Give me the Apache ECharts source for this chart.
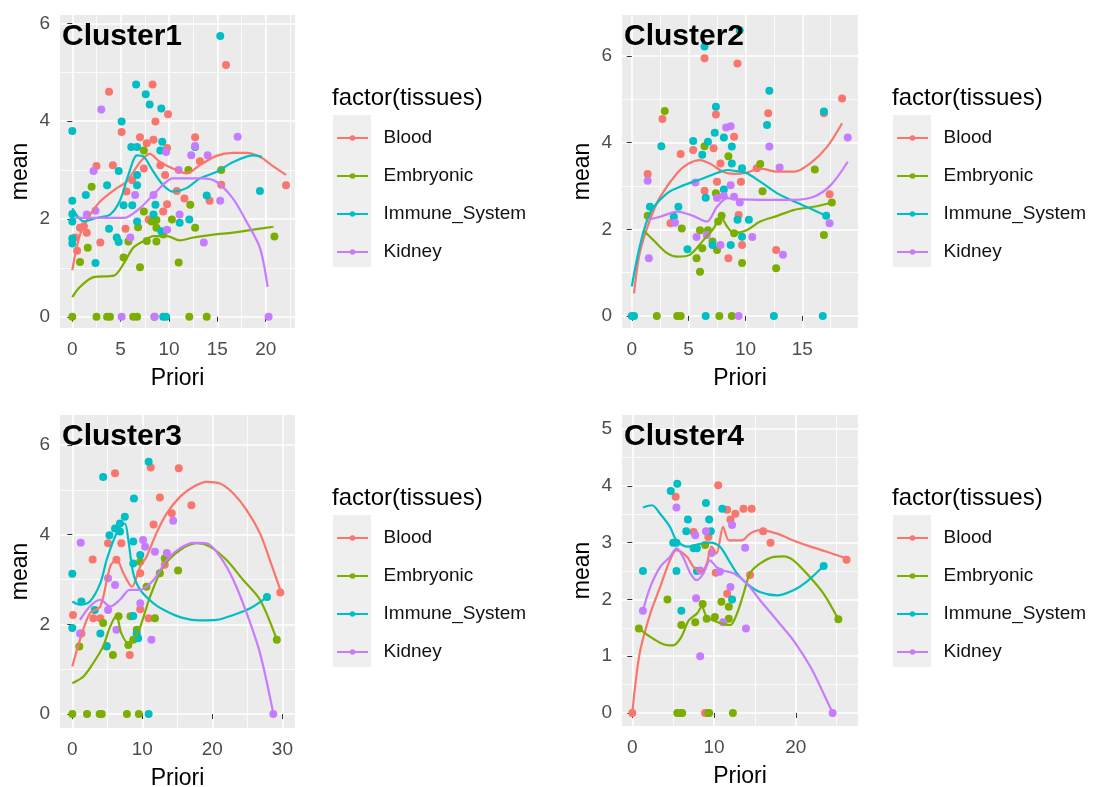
<!DOCTYPE html>
<html>
<head>
<meta charset="utf-8">
<title>Clusters</title>
<script src="https://cdn.jsdelivr.net/npm/echarts@6/dist/echarts.min.js"></script>
<style>
  html, body { margin: 0; padding: 0; background: #fff; }
  #chart { width: 1099px; height: 787px; }
</style>
</head>
<body>
<div id="chart"></div>
<script>
// tissue groups, ggplot default hues
const tissues = ['Blood', 'Embryonic', 'Immune_System', 'Kidney'];
const tissueColors = ['#F8766D', '#7CAE00', '#00BFC4', '#C77CFF'];
const clusterNames = ['Cluster1', 'Cluster2', 'Cluster3', 'Cluster4'];

// tick values per panel
const c1XTicks = [0, 5, 10, 15, 20];
const c1YTicks = [0, 2, 4, 6];
const c2XTicks = [0, 5, 10, 15];
const c2YTicks = [0, 2, 4, 6];
const c3XTicks = [0, 10, 20, 30];
const c3YTicks = [0, 2, 4, 6];
const c4XTicks = [0, 10, 20];
const c4YTicks = [0, 1, 2, 3, 4, 5];

// ---- Cluster1: points [Priori, mean]
const c1Blood = [[15.9,5.15],[8.3,4.75],[3.8,4.6],[9.9,4.14],[8.6,3.99],[5.1,3.78],[7.0,3.67],[12.7,3.67],[8.4,3.62],[7.7,3.55],[9.8,3.45],[2.5,3.08],[4.2,3.1],[7.4,3.03],[9.1,3.1],[13.2,3.18],[9.6,2.9],[6.2,2.79],[5.6,2.56],[9.8,2.3],[10.8,2.57],[11.6,2.42],[14.2,2.37],[15.4,2.7],[0.8,1.82],[1.5,1.72],[1.2,1.85],[2.9,1.52],[5.5,1.8],[7.9,1.99],[9.4,2.15],[0.3,1.62],[0.5,1.35],[22.1,2.69]];
const c1Emb = [[7.4,3.4],[2.0,2.66],[12.0,3.0],[15.4,3.0],[12.2,2.29],[7.4,2.15],[8.2,1.95],[8.7,1.98],[8.7,1.82],[6.8,1.83],[7.7,1.55],[8.7,1.54],[9.4,1.68],[10.3,1.99],[12.7,1.82],[11.0,1.11],[7.0,1.01],[5.3,1.21],[1.6,1.41],[0.8,1.12],[5.8,1.54],[20.9,1.64],[0,0],[2.5,0],[3.6,0],[3.9,0],[6.3,0],[6.7,0],[8.5,0],[12.1,0],[13.9,0]];
const c1Imm = [[15.3,5.74],[0,3.8],[6.6,4.75],[7.6,4.55],[8.0,4.34],[9.2,4.26],[5.1,3.99],[6.1,3.47],[6.7,3.47],[9.3,3.58],[9.1,3.4],[12.7,3.47],[0,2.37],[0,2.1],[0,1.95],[0,1.6],[0,1.5],[1.4,2.49],[3.6,2.69],[4.8,2.98],[3.8,1.8],[2.4,1.1],[5.3,2.28],[6.2,2.28],[6.7,2.69],[6.7,2.9],[8.6,2.29],[8.4,2.09],[9.2,1.75],[11.1,1.92],[12.1,1.99],[13.9,2.48],[19.4,2.57],[9.4,0],[9.7,0],[6.7,1.95],[4.8,1.53],[4.6,1.62]];
const c1Kid = [[3.0,4.24],[12.7,3.49],[17.1,3.68],[9.7,3.37],[11.0,3.0],[2.2,2.98],[12.3,3.3],[14.0,3.3],[1.5,2.09],[2.4,2.17],[6.5,2.49],[8.4,2.49],[11.1,2.09],[9.8,1.78],[13.6,1.52],[15.3,2.37],[6.0,1.62],[5.1,0],[8.5,0],[20.3,0]];
// Cluster1: smoothed fits
const c1BloodFit = [[0,0.95],[0.8,1.68],[1.9,2.1],[2.9,2.36],[4.6,2.63],[5.6,2.76],[7.0,3.16],[8.0,3.33],[9.1,3.16],[10.4,3.03],[11.8,2.93],[13.2,3.1],[14.9,3.29],[16.6,3.35],[18.0,3.35],[19.4,3.27],[20.6,3.1],[22.1,2.9]];
const c1EmbFit = [[0,0.4],[0.8,0.61],[2.2,0.81],[4.3,0.84],[5.3,1.08],[6.3,1.41],[7.4,1.55],[8.4,1.65],[9.8,1.65],[11.1,1.56],[12.5,1.62],[14.6,1.68],[16.6,1.72],[18.7,1.78],[20.8,1.84]];
const c1ImmFit = [[0,2.22],[1.2,1.95],[2.5,2.02],[3.9,2.09],[4.9,2.36],[5.8,2.9],[6.7,3.3],[7.4,3.27],[8.4,2.96],[9.4,2.69],[10.4,2.56],[11.8,2.63],[13.2,2.83],[14.9,2.96],[16.6,3.16],[18.7,3.3],[19.6,3.27]];
const c1KidFit = [[0.3,2.02],[2.9,2.02],[5.3,2.02],[7.0,2.22],[8.7,2.56],[10.4,2.83],[11.8,2.83],[13.5,2.83],[14.9,2.76],[16.6,2.42],[18.0,1.95],[19.4,1.41],[20.2,0.61]];

// ---- Cluster2
const c2Blood = [[6.4,5.95],[9.3,5.83],[18.5,5.02],[7.4,4.65],[12.0,4.68],[2.7,4.55],[16.9,4.68],[1.4,3.28],[4.3,3.74],[5.4,3.83],[7.2,3.87],[9.0,4.14],[6.4,2.89],[7.8,3.52],[7.5,3.1],[9.6,3.1],[11.0,3.41],[3.4,2.14],[9.4,2.33],[9.7,1.64],[8.5,1.33],[12.7,1.52],[17.4,2.81]];
const c2Emb = [[2.9,4.73],[6.4,3.92],[8.5,3.69],[11.3,3.51],[16.1,3.38],[17.6,2.62],[16.9,1.87],[7.4,2.83],[11.5,2.88],[1.4,2.31],[4.4,2.02],[6.0,1.98],[6.7,1.98],[7.6,2.18],[7.9,2.31],[6.2,1.56],[5.7,1.33],[6.0,1.02],[7.1,1.72],[7.5,1.52],[9.7,1.22],[12.7,1.1],[9.0,1.91],[2.2,0],[4.0,0],[4.3,0],[7.7,0],[8.8,0]];
const c2Imm = [[6.4,6.22],[9.5,6.6],[12.1,5.2],[7.4,4.83],[11.9,4.41],[16.9,4.72],[2.6,3.92],[5.4,4.04],[6.7,4.02],[7.3,4.23],[8.1,4.12],[8.8,3.91],[6.2,3.72],[8.8,3.52],[9.7,3.41],[6.5,2.73],[8.1,2.92],[1.6,2.52],[4.1,2.52],[3.7,2.29],[9.3,2.22],[10.3,2.22],[9.7,1.83],[8.7,1.64],[7.1,1.64],[4.9,1.54],[17.1,2.31],[0,0],[0.2,0],[6.5,0],[12.5,0],[16.8,0]];
const c2Kid = [[8.3,4.35],[8.7,4.38],[12.1,3.91],[19.0,4.12],[1.4,3.12],[5.6,3.08],[13.0,3.43],[8.7,3.02],[7.5,2.72],[8.1,2.77],[9.0,2.75],[9.5,2.62],[1.5,1.33],[3.8,2.15],[5.7,1.82],[6.6,1.87],[7.8,1.64],[10.6,1.82],[13.3,1.41],[17.4,2.14],[9.4,0]];
const c2BloodFit = [[0.2,0.52],[0.7,1.45],[1.6,2.22],[2.5,2.75],[4.0,3.3],[5.0,3.52],[6.0,3.6],[7.0,3.5],[8.0,3.33],[9.0,3.28],[10.0,3.3],[11.3,3.4],[12.8,3.33],[14.3,3.33],[15.7,3.52],[17.2,3.91],[18.5,4.45]];
const c2EmbFit = [[1.0,1.98],[1.9,1.75],[3.1,1.45],[4.0,1.37],[5.1,1.41],[6.3,1.75],[7.2,2.02],[7.8,2.29],[8.4,2.06],[9.0,1.91],[10.1,1.98],[11.3,2.18],[12.8,2.31],[14.3,2.45],[16.0,2.52],[17.6,2.62]];
const c2ImmFit = [[0,0.68],[0.7,1.6],[1.6,2.37],[3.1,2.83],[4.6,3.02],[6.0,3.15],[7.5,3.3],[8.4,3.37],[9.5,3.33],[10.1,3.3],[11.3,3.1],[12.8,2.83],[14.3,2.64],[15.7,2.48],[17.1,2.31]];
const c2KidFit = [[1.4,2.22],[2.5,2.29],[4.0,2.41],[5.4,2.31],[6.6,2.18],[7.5,2.52],[8.4,2.72],[9.6,2.69],[11.3,2.68],[12.8,2.68],[14.3,2.68],[16.0,2.75],[17.5,3.02],[19.0,3.56]];

// ---- Cluster3
const c3Blood = [[6.1,5.37],[11.2,5.5],[15.2,5.48],[12.5,4.83],[17.0,4.66],[14.2,4.48],[11.6,4.23],[5.1,3.81],[7.0,3.81],[2.9,3.45],[6.3,3.44],[9.7,3.14],[0.1,2.21],[1.3,1.8],[3.0,2.14],[4.0,2.14],[8.2,1.32],[9.7,2.34],[10.9,2.14],[13.2,3.33],[29.7,2.71]];
const c3Emb = [[15.1,3.2],[13.2,3.47],[12.5,3.14],[9.7,3.4],[10.6,2.84],[11.8,2.14],[1.0,1.51],[4.4,2.03],[4.9,1.51],[5.8,1.32],[8.0,1.54],[8.7,1.66],[9.2,1.88],[8.3,2.18],[6.6,2.18],[29.2,1.66],[0,0],[2.1,0],[3.9,0],[4.2,0],[7.8,0],[9.5,0]];
const c3Imm = [[10.9,5.63],[4.4,5.29],[8.7,3.36],[0,3.13],[5.3,3.99],[6.1,4.14],[6.8,4.25],[7.5,4.4],[6.8,4.07],[8.7,3.85],[8.8,4.81],[9.7,3.55],[0,1.92],[1.3,2.51],[3.2,2.32],[4.0,1.8],[4.9,1.52],[8.7,2.19],[9.2,1.8],[9.4,1.69],[10.9,0],[27.8,2.61]];
const c3Kid = [[1.2,3.82],[10.1,3.88],[14.4,4.31],[10.4,3.73],[11.8,3.62],[13.5,3.59],[5.1,3.03],[6.1,2.88],[5.1,2.32],[1.1,1.8],[6.3,1.88],[11.3,1.66],[9.7,2.47],[28.7,0]];
const c3BloodFit = [[0,1.06],[1.1,1.66],[2.5,2.25],[4.0,2.4],[5.4,3.29],[6.3,3.45],[7.3,3.14],[8.5,2.84],[9.7,3.29],[10.6,3.51],[12.0,4.03],[13.5,4.48],[15.4,4.85],[17.3,5.07],[19.2,5.18],[21.1,5.14],[23.0,4.92],[24.9,4.55],[26.8,4.03],[28.2,3.44],[29.7,2.77]];
const c3EmbFit = [[0,0.69],[1.6,0.84],[3.0,1.14],[4.4,1.51],[5.4,1.95],[6.3,2.19],[7.0,1.8],[8.0,1.58],[8.7,1.66],[9.7,1.95],[11.1,2.62],[13.0,3.29],[15.4,3.66],[17.8,3.81],[19.7,3.73],[22.0,3.44],[24.4,2.99],[26.8,2.55],[29.2,1.66]];
const c3ImmFit = [[0,2.51],[1.1,2.44],[2.5,2.51],[4.0,2.92],[4.9,3.44],[5.9,3.88],[6.8,4.18],[7.5,4.25],[8.0,3.88],[8.7,3.14],[9.7,2.77],[11.6,2.47],[13.5,2.29],[15.9,2.14],[18.2,2.09],[20.6,2.1],[23.0,2.21],[25.4,2.36],[27.8,2.61]];
const c3KidFit = [[1.1,2.1],[2.5,2.4],[4.0,2.55],[5.4,2.4],[6.8,2.55],[8.2,2.77],[9.7,2.77],[11.6,2.99],[13.5,3.44],[15.4,3.7],[17.3,3.82],[19.2,3.81],[21.1,3.51],[23.0,2.99],[24.9,2.25],[26.8,1.36],[28.7,0.02]];

// ---- Cluster4
const c4Blood = [[10.5,4.01],[5.3,3.81],[11.6,3.58],[12.6,3.51],[13.6,3.6],[14.6,3.6],[12.0,3.41],[7.5,3.19],[9.3,3.1],[16.0,3.2],[16.9,3.0],[10.2,2.47],[11.6,2.1],[14.4,2.43],[26.2,2.7],[0,0],[8.9,0]];
const c4Emb = [[0.8,1.49],[4.3,2.0],[6.0,1.55],[7.7,1.6],[8.6,1.92],[9.1,1.66],[10.1,1.69],[10.9,1.96],[11.8,1.66],[11.8,1.87],[8.9,2.96],[25.2,1.65],[5.5,0],[5.9,0],[6.1,0],[9.3,0],[9.4,0],[12.3,0]];
const c4Imm = [[5.5,4.04],[4.7,3.91],[9.0,3.7],[11.0,3.6],[6.8,3.41],[9.4,3.41],[6.6,3.2],[9.6,3.2],[5.0,3.0],[5.4,3.0],[7.5,2.9],[7.9,2.9],[1.3,2.5],[5.4,2.5],[7.9,2.5],[6.0,1.8],[12.2,2.0],[23.4,2.59]];
const c4Kid = [[5.4,3.62],[7.7,3.13],[9.0,3.2],[12.2,3.31],[13.8,2.91],[8.3,2.51],[9.7,2.82],[10.7,2.49],[12.0,2.22],[1.3,1.8],[7.8,2.02],[11.1,1.6],[8.3,1.0],[13.9,1.49],[24.5,0]];
const c4BloodFit = [[0,0],[0.9,1.05],[2.2,1.75],[3.4,2.22],[4.6,2.69],[5.4,2.87],[6.7,2.75],[7.5,2.57],[8.5,2.49],[9.1,2.63],[9.7,2.93],[10.3,2.81],[11.1,3.28],[11.8,3.04],[12.4,3.04],[13.4,3.04],[14.4,3.16],[15.6,3.22],[17.7,3.16],[19.7,3.04],[21.8,2.93],[23.8,2.84],[26.2,2.72]];
const c4EmbFit = [[0.8,1.49],[2.2,1.34],[3.8,1.21],[5.0,1.19],[6.0,1.34],[6.9,1.63],[7.9,1.75],[8.5,1.87],[9.1,1.69],[9.9,1.63],[11.1,1.57],[12.0,1.55],[12.8,1.75],[13.6,2.1],[14.4,2.46],[15.6,2.63],[17.3,2.75],[18.5,2.76],[19.7,2.69],[21.3,2.46],[23.4,2.1],[25.2,1.65]];
const c4ImmFit = [[1.3,3.62],[2.4,3.66],[3.4,3.51],[4.6,3.28],[5.4,3.04],[6.7,2.93],[8.3,2.98],[9.5,3.0],[10.7,2.93],[11.8,2.69],[12.8,2.46],[14.0,2.28],[15.6,2.13],[17.7,2.07],[19.7,2.16],[21.3,2.31],[23.4,2.59]];
const c4KidFit = [[1.3,1.8],[2.2,2.22],[3.4,2.57],[4.6,2.75],[5.4,2.9],[6.2,2.75],[7.1,2.46],[7.9,2.34],[8.7,2.46],[9.5,2.69],[10.3,2.57],[11.1,2.51],[12.4,2.46],[14.0,2.28],[15.6,1.99],[17.7,1.63],[19.7,1.28],[21.8,0.81],[23.4,0.34],[24.5,0]];

const pointSets = [
    [c1Blood, c1Emb, c1Imm, c1Kid],
    [c2Blood, c2Emb, c2Imm, c2Kid],
    [c3Blood, c3Emb, c3Imm, c3Kid],
    [c4Blood, c4Emb, c4Imm, c4Kid]
];
const fitSets = [
    [c1BloodFit, c1EmbFit, c1ImmFit, c1KidFit],
    [c2BloodFit, c2EmbFit, c2ImmFit, c2KidFit],
    [c3BloodFit, c3EmbFit, c3ImmFit, c3KidFit],
    [c4BloodFit, c4EmbFit, c4ImmFit, c4KidFit]
];
const xTicks = [c1XTicks, c2XTicks, c3XTicks, c4XTicks];
const yTicks = [c1YTicks, c2YTicks, c3YTicks, c4YTicks];

// layout (px): panel boxes and axis extents
const panels = [
    { left: 60,  top: 15,  width: 235, height: 313, x: [-1.27, 23.03], y: [-0.23, 6.17], xs: 5, ys: 3 },
    { left: 622, top: 15,  width: 236, height: 313, x: [-0.86, 19.9],  y: [-0.28, 6.95], xs: 5, ys: 3 },
    { left: 60,  top: 415, width: 235, height: 313, x: [-1.76, 31.8],  y: [-0.31, 6.67], xs: 3, ys: 3 },
    { left: 622, top: 415, width: 236, height: 311, x: [-1.26, 27.6],  y: [-0.23, 5.25], xs: 3, ys: 5 }
];

const FONT = 'Liberation Sans, Arial, sans-serif';

function makeAxis(idx, isY) {
    const p = panels[idx];
    const ext = isY ? p.y : p.x;
    const ticks = isY ? yTicks[idx] : xTicks[idx];
    return {
        type: 'value',
        gridIndex: idx,
        min: ext[0],
        max: ext[1],
        splitNumber: isY ? p.ys : p.xs,
        name: isY ? 'mean' : 'Priori',
        nameLocation: 'middle',
        nameGap: isY ? 28 : 39,
        nameTextStyle: { fontSize: 23, color: '#000', fontFamily: FONT },
        axisLine: { show: false },
        axisTick: { show: true, length: 5, customValues: ticks, lineStyle: { color: '#333', width: 1 } },
        axisLabel: { customValues: ticks, margin: isY ? 10 : 12, fontSize: 19, color: '#4D4D4D', fontFamily: FONT },
        splitLine: { show: true, lineStyle: { color: '#fff', width: 1.6 } },
        minorTick: { show: false, splitNumber: 2 },
        minorSplitLine: { show: true, lineStyle: { color: '#fff', width: 0.8 } }
    };
}

const grids = [], xAxes = [], yAxes = [], lineSeries = [], pointSeries = [];
const titles = [], legends = [], keyBoxes = [];

panels.forEach((p, i) => {
    grids.push({
        left: p.left, top: p.top, width: p.width, height: p.height,
        show: true, backgroundColor: '#EBEBEB', borderWidth: 0,
        containLabel: false, outerBoundsMode: 'none'
    });
    xAxes.push(makeAxis(i, false));
    yAxes.push(makeAxis(i, true));

    tissues.forEach((t, k) => {
        lineSeries.push({
            name: t, type: 'line', xAxisIndex: i, yAxisIndex: i,
            data: fitSets[i][k], smooth: 0.3, showSymbol: false, symbol: 'circle',
            lineStyle: { color: tissueColors[k], width: 2.2 },
            itemStyle: { color: tissueColors[k] },
            z: 3, silent: true
        });
        pointSeries.push({
            name: t, type: 'scatter', xAxisIndex: i, yAxisIndex: i,
            data: pointSets[i][k], symbolSize: 8,
            itemStyle: { color: tissueColors[k], opacity: 1 },
            z: 2, silent: true
        });
    });

    const right = i % 2 === 1;
    const lx = right ? 893 : 333;
    const dy = i >= 2 ? 400 : 0;
    titles.push({
        text: clusterNames[i], left: p.left + 2, top: p.top + 7, padding: 0,
        textStyle: { fontSize: 30, fontWeight: 'bold', color: '#000', fontFamily: FONT }
    });
    titles.push({
        text: 'factor(tissues)', left: lx - 1, top: 86 + dy, padding: 0,
        textStyle: { fontSize: 24, fontWeight: 'normal', color: '#000', fontFamily: FONT }
    });
    legends.push({
        orient: 'vertical', left: lx + 3, top: 128 + dy, padding: 0,
        itemWidth: 31, itemHeight: 7, itemGap: 18,
        data: tissues.slice(),
        formatter: name => '  ' + name,
        textStyle: { fontSize: 19, lineHeight: 20, color: '#111', fontFamily: FONT },
        selectedMode: false
    });
    keyBoxes.push({
        type: 'rect', z: 0,
        shape: { x: lx, y: 115 + dy, width: 38, height: 152 },
        style: { fill: '#EFEFEF' }
    });
});

const chart = echarts.init(document.getElementById('chart'));
chart.setOption({
    animation: false,
    backgroundColor: '#fff',
    textStyle: { fontFamily: FONT },
    title: titles,
    legend: legends,
    grid: grids,
    xAxis: xAxes,
    yAxis: yAxes,
    graphic: keyBoxes,
    series: lineSeries.concat(pointSeries)
});
</script>
</body>
</html>
